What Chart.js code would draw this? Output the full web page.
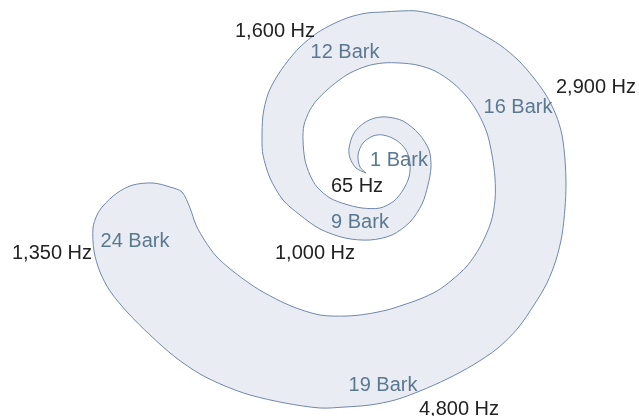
<!DOCTYPE html>
<html>
<head>
<meta charset="utf-8">
<script src="https://cdn.jsdelivr.net/npm/chart.js@4/dist/chart.umd.min.js"></script>
<style>
    html, body { margin: 0; padding: 0; background: #ffffff; }
    #wrap { width: 639px; height: 416px; position: relative; }
</style>
</head>
<body>
<div id="wrap"><canvas id="spiral"></canvas></div>
<script>
// Spiral outline, units relative to the centre of the curl (y up).
// Outer edge runs from the tip of the curl out to the 24 Bark end.
const outerX = [-14, -24, -30, -31, -26, -16, -5, 7, 23, 39, 49, 51, 48, 42, 30, 12, -10, -35, -60, -80, -97, -110, -117, -118, -117, -112, -104, -93, -80, -63, -47, -30, -13, 3, 20, 37, 57, 80, 100, 120, 138, 153, 166, 176, 182, 185, 186, 185, 182, 176, 167, 154, 138, 118, 93, 67, 40, 15, -10, -35, -60, -95, -130, -155, -180, -205, -230, -252, -270, -280, -286, -287, -283, -277, -263, -247, -227, -210, -198];
const outerY = [-13, -8, 2, 12, 27, 37, 42, 43, 39, 26, 10, -7, -25, -44, -62, -75, -80, -78, -69, -55, -40, -18, 5, 20, 45, 66, 82, 98, 113, 127, 136, 143, 147, 148, 149, 149, 145, 138, 127, 115, 100, 83, 65, 45, 25, 0, -25, -48, -75, -100, -123, -145, -168, -188, -205, -219, -231, -240, -245, -247, -248, -243, -235, -226, -214, -197, -175, -153, -131, -112, -91, -68, -55, -46, -33, -25, -23, -27, -32];

// Inner edge, same direction, from just after the tip to the end.
const innerX = [-20, -22, -17, -7, 3, 16, 26, 30, 29, 23, 14, 0, -18, -35, -50, -63, -70, -75, -77, -76, -70, -63, -53, -42, -30, -13, 3, 20, 37, 55, 73, 87, 98, 107, 112, 115, 115, 111, 100, 87, 72, 57, 40, 23, 7, -13, -33, -60, -89, -117, -134, -151, -164, -175, -184, -190];
const innerY = [-7, 5, 17, 24, 25, 20, 10, -3, -17, -30, -41, -48, -48, -44, -38, -27, -15, 0, 20, 35, 50, 60, 70, 79, 87, 94, 97, 97, 95, 89, 77, 63, 47, 27, 5, -18, -40, -62, -87, -106, -120, -131, -139, -145, -150, -154, -156, -155, -146, -132, -121, -108, -96, -81, -65, -48];

// Annotations
const labelText = ['1,600 Hz', '12 Bark', '2,900 Hz', '16 Bark', '1 Bark', '65 Hz', '9 Bark', '1,000 Hz', '1,350 Hz', '24 Bark', '19 Bark', '4,800 Hz'];
const labelX = [-105, -35, 216, 138, 19, -23, -20, -65, -328, -245, 3, 79];
const labelY = [129, 108, 73, 53, 0, -26, -62, -93, -93, -81, -225, -249];
const labelKind = ['hz', 'bark', 'hz', 'bark', 'bark', 'hz', 'bark', 'hz', 'hz', 'bark', 'bark', 'hz'];

function buildOutline() {
    const pts = [];
    outerX.forEach((x, i) => pts.push({ x: x, y: outerY[i] }));
    for (let i = innerX.length - 1; i >= 0; i--) {
        pts.push({ x: innerX[i], y: innerY[i] });
    }
    pts.push({ x: outerX[0], y: outerY[0] });
    return pts;
}

const labelPlugin = {
    id: 'spiralLabels',
    afterDatasetsDraw(chart) {
        const ctx = chart.ctx;
        const xs = chart.scales.x;
        const ys = chart.scales.y;
        ctx.save();
        ctx.font = '20px "Liberation Sans", Arial, sans-serif';
        ctx.textAlign = 'center';
        ctx.textBaseline = 'middle';
        labelText.forEach((t, i) => {
            ctx.fillStyle = labelKind[i] === 'bark' ? '#5b7891' : '#222222';
            ctx.fillText(t, xs.getPixelForValue(labelX[i]), ys.getPixelForValue(labelY[i]));
        });
        ctx.restore();
    }
};

new Chart(document.getElementById('spiral'), {
    type: 'scatter',
    data: {
        datasets: [{
            data: buildOutline(),
            showLine: true,
            fill: 'shape',
            backgroundColor: '#e9edf3',
            borderColor: '#7087aa',
            borderWidth: 1,
            pointRadius: 0,
            tension: 0.3
        }]
    },
    options: {
        responsive: true,
        maintainAspectRatio: false,
        animation: false,
        layout: { padding: 0 },
        plugins: {
            legend: { display: false },
            tooltip: { enabled: false }
        },
        scales: {
            x: { type: 'linear', min: -380, max: 259, display: false },
            y: { type: 'linear', min: -256, max: 160, display: false }
        }
    },
    plugins: [labelPlugin]
});
</script>
</body>
</html>
